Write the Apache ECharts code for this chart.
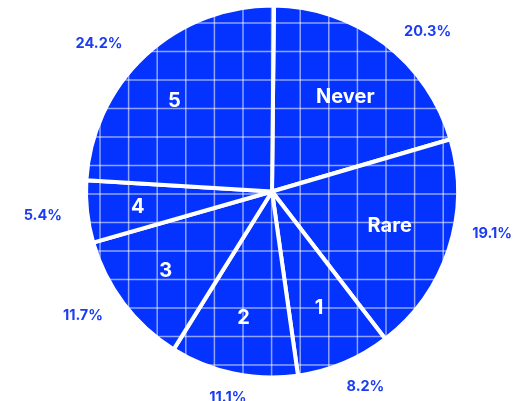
<!DOCTYPE html>
<html>
<head>
<meta charset="utf-8">
<script src="https://cdn.jsdelivr.net/npm/echarts@6/dist/echarts.min.js"></script>
<style>
html,body{margin:0;padding:0;background:#fff;}
#c{width:528px;height:401px;}
</style>
</head>
<body>
<div id="c"></div>
<script>
// ---- data ----
var categories = ['Never', 'Rare', '1', '2', '3', '4', '5'];
var values = [20.3, 19.1, 8.2, 11.1, 11.7, 5.4, 24.2];

// ---- label offsets (layout tweaks, px) ----
var outerDx = [21, 8, 7, 2, -11, -7.5, -21];
var outerDy = [17.5, -26.5, -10.5, -12.5, -10.5, -0.5, 15];
var innerDx = [-4, -4, -2.5, -2, -4, -7, -10.5];
var innerDy = [7.5, -5, -1.5, 1.5, 2.5, 1.5, 3.5];

var W = 528, H = 401;
var BLUE = '#0433ff';

// grid texture
var tex = document.createElement('canvas');
tex.width = W; tex.height = H;
var g = tex.getContext('2d');
g.fillStyle = BLUE;
g.fillRect(0, 0, W, H);
g.strokeStyle = 'rgba(255,255,255,0.55)';
g.lineWidth = 1.5;
for (var x = 14.2; x < W; x += 28.6) {
  g.beginPath(); g.moveTo(x, 0); g.lineTo(x, H); g.stroke();
}
for (var y = 23; y < H; y += 28.5) {
  g.beginPath(); g.moveTo(0, y); g.lineTo(W, y); g.stroke();
}

var pieData = categories.map(function (c, i) { return { name: c, value: values[i] }; });
var center = [272, 191.5];

var chart = echarts.init(document.getElementById('c'), null, { renderer: 'canvas' });
chart.setOption({
  animation: false,
  series: [
    {
      type: 'pie',
      center: center,
      radius: [0, 186],
      startAngle: 89.4,
      clockwise: true,
      silent: true,
      data: pieData,
      itemStyle: {
        color: { image: tex, repeat: 'no-repeat' },
        borderColor: '#ffffff',
        borderWidth: 4
      },
      label: { show: false },
      labelLine: { show: false },
      emphasis: { disabled: true }
    },
    {
      type: 'pie',
      center: center,
      radius: [70, 180],
      startAngle: 89.4,
      silent: true,
      data: pieData,
      itemStyle: { color: 'rgba(0,0,0,0)', borderWidth: 0 },
      label: {
        show: true,
        position: 'inside',
        formatter: '{b}',
        color: '#ffffff',
        fontFamily: 'Inter',
        fontWeight: 'bold',
        fontSize: 20
      },
      labelLine: { show: false },
      labelLayout: function (p) { return { dx: innerDx[p.dataIndex], dy: innerDy[p.dataIndex] }; },
      emphasis: { disabled: true }
    },
    {
      type: 'pie',
      center: center,
      radius: [190, 250],
      startAngle: 89.4,
      silent: true,
      data: pieData,
      itemStyle: { color: 'rgba(0,0,0,0)', borderWidth: 0 },
      label: {
        show: true,
        position: 'inside',
        formatter: function (p) { return p.value.toFixed(1) + '%'; },
        color: '#1a3cf2',
        fontFamily: 'Inter',
        fontWeight: 'bold',
        fontSize: 14.5
      },
      labelLine: { show: false },
      labelLayout: function (p) { return { dx: outerDx[p.dataIndex], dy: outerDy[p.dataIndex] }; },
      emphasis: { disabled: true }
    }
  ]
});
</script>
</body>
</html>
